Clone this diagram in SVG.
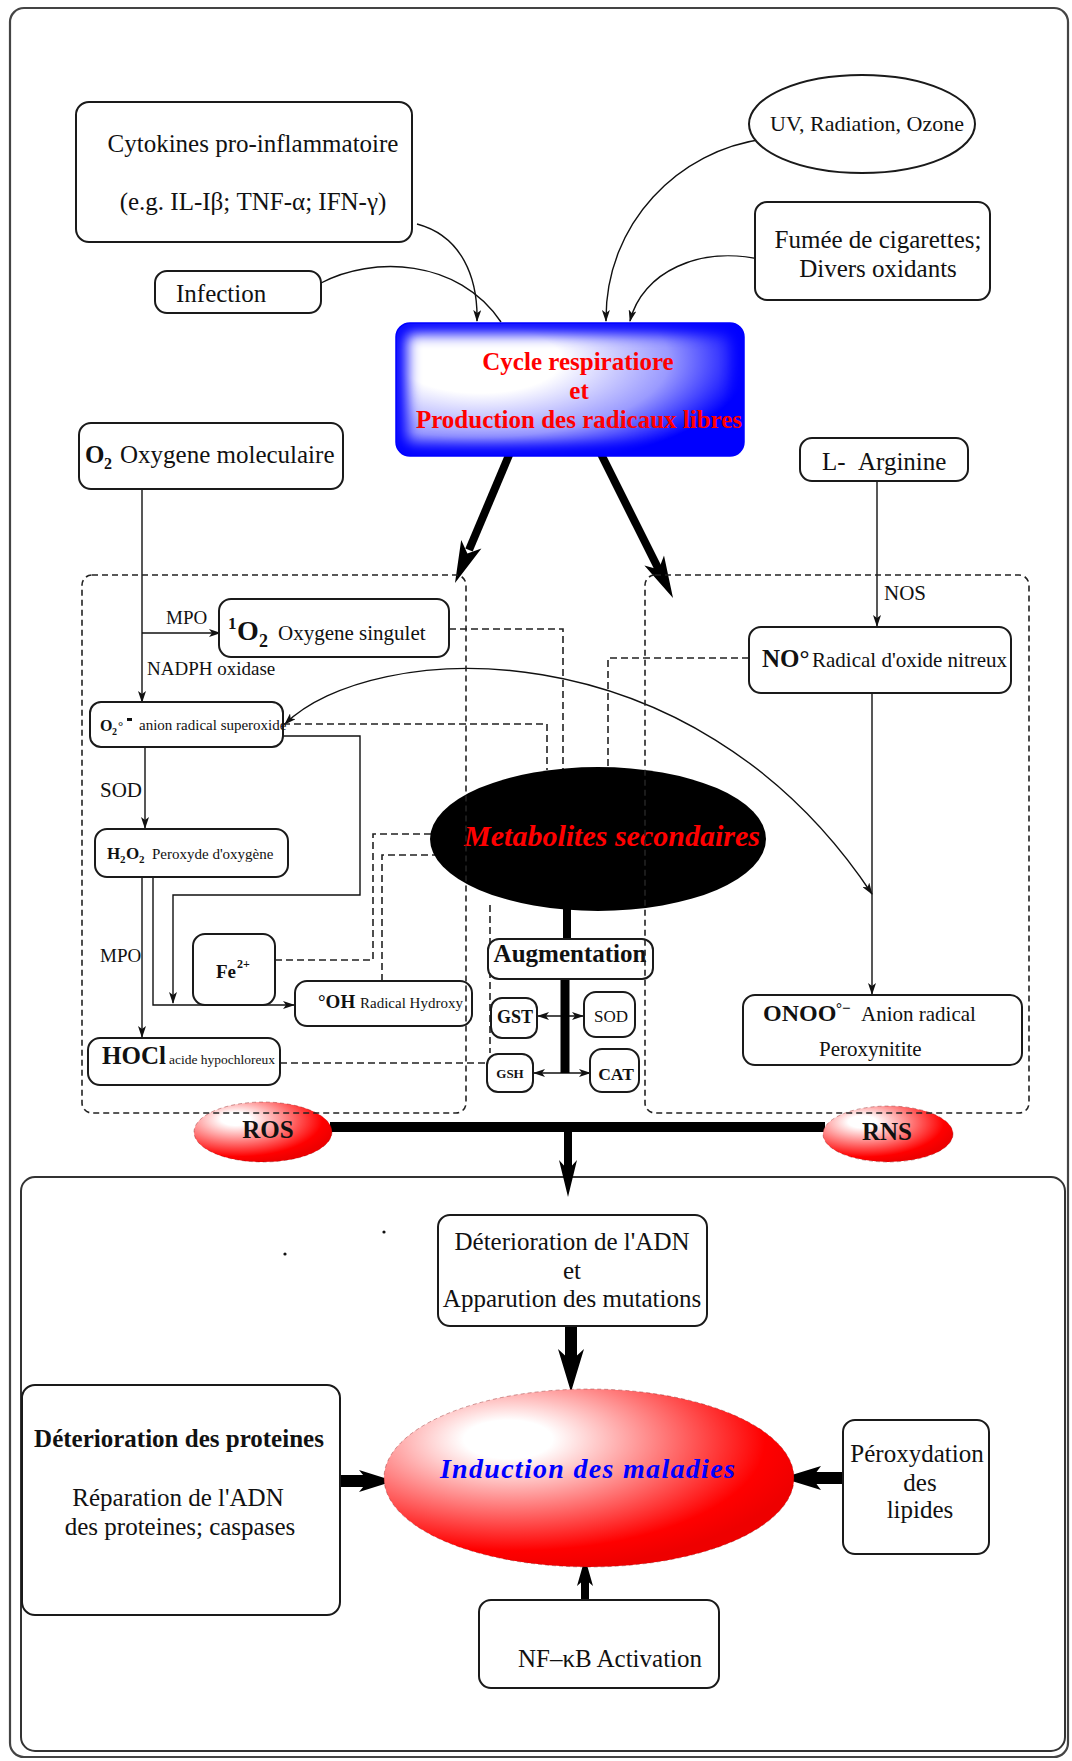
<svg xmlns="http://www.w3.org/2000/svg" width="1072" height="1761" viewBox="0 0 1072 1761">
<defs>
<style>
.box{fill:#fff;stroke:#1a1a1a;stroke-width:2}
.ln{fill:none;stroke:#111;stroke-width:1.4}
.dl{fill:none;stroke:#222;stroke-width:1.6;stroke-dasharray:7 4}
.rg{fill:none;stroke:#222;stroke-width:1.6;stroke-dasharray:6 4}
.thk{stroke:#000;fill:none}
.hd{fill:#000}
.red{fill:url(#redG);stroke:#7a0000;stroke-width:0.8;stroke-dasharray:4 3;stroke-opacity:0.45}
.t{font-family:"Liberation Serif","Times New Roman",serif;fill:#111}
.b{font-weight:bold}
.m{text-anchor:middle}
</style>
<marker id="ah" viewBox="0 0 12 8" refX="11" refY="4" markerWidth="12" markerHeight="8" markerUnits="userSpaceOnUse" orient="auto-start-reverse"><path d="M0,0 L12,4 L0,8 L3,4 z" fill="#111"/></marker>
<radialGradient id="blueG" gradientUnits="userSpaceOnUse" cx="0" cy="0" r="1" gradientTransform="matrix(270 0 0 110 480 360)">
<stop offset="0" stop-color="#fff"/><stop offset="0.3" stop-color="#fff"/><stop offset="0.7" stop-color="#9a9aff"/><stop offset="1" stop-color="#0000ff"/>
</radialGradient>
<radialGradient id="redG" cx="0.32" cy="0.3" r="0.72" fx="0.3" fy="0.28">
<stop offset="0" stop-color="#fff"/><stop offset="0.15" stop-color="#fff"/><stop offset="0.85" stop-color="#ff0000"/><stop offset="1" stop-color="#ee0000"/>
</radialGradient>
<clipPath id="cycClip"><rect x="396" y="323" width="348" height="133" rx="14"/></clipPath>
<filter id="soft" x="-10%" y="-20%" width="120%" height="140%"><feGaussianBlur stdDeviation="7"/></filter>
</defs>

<rect x="0" y="0" width="1072" height="1761" fill="#fff"/>
<g id="frames">
<rect x="10" y="8" width="1058" height="1749" rx="14" fill="none" stroke="#444" stroke-width="2.2"/>
<rect x="21" y="1177" width="1044" height="574" rx="14" fill="none" stroke="#333" stroke-width="2"/>
<circle cx="384" cy="1232" r="1.6" fill="#111"/>
<circle cx="285" cy="1254" r="1.6" fill="#111"/>
</g>

<g id="connectors">
<path class="ln" d="M417,224 C462,236 478,278 477,321" marker-end="url(#ah)"/>
<path class="ln" d="M321,283 C372,256 458,258 501,322"/>
<path class="ln" d="M764,139 C680,150 605,222 606,321" marker-end="url(#ah)"/>
<path class="ln" d="M763,260 C700,245 642,272 630,321" marker-end="url(#ah)"/>
<path class="ln" d="M142,489 V702" marker-end="url(#ah)"/>
<path class="ln" d="M142,633 H220" marker-end="url(#ah)"/>
<path class="ln" d="M145,747 V828" marker-end="url(#ah)"/>
<path class="ln" d="M142,877 V1037" marker-end="url(#ah)"/>
<path class="ln" d="M153,877 V1005 H294" marker-end="url(#ah)"/>
<path class="ln" d="M283,736 H360 V895 H173 V1003" marker-end="url(#ah)"/>
<path class="ln" d="M877,481 V626" marker-end="url(#ah)"/>
<path class="ln" d="M872,693 V994" marker-end="url(#ah)"/>
<path class="ln" d="M285,724 C370,640 690,620 872,894" marker-start="url(#ah)" marker-end="url(#ah)"/>
<path class="ln" stroke-width="2" d="M538,1016 H583" marker-start="url(#ah)" marker-end="url(#ah)"/>
<path class="ln" stroke-width="2" d="M534,1073 H590" marker-start="url(#ah)" marker-end="url(#ah)"/>

<path class="dl" d="M449,629 H563 V769"/>
<path class="dl" d="M283,724 H547 V770"/>
<path class="dl" d="M749,658 H608 V767"/>
<path class="dl" d="M275,960 H373 V834 H431"/>
<path class="dl" d="M382,981 V855 H435"/>
<path class="dl" d="M280,1063 H487"/>
<path class="dl" d="M490,905 V1053"/>

<line class="thk" x1="512" y1="448" x2="469" y2="550" stroke-width="8"/>
<polygon class="hd" points="455,583 481.4,548.6 467.4,553.5 461.2,540"/>
<line class="thk" x1="600" y1="452" x2="660" y2="572" stroke-width="8"/>
<polygon class="hd" points="673,598 644.4,565.4 658.7,569.4 664,555.6"/>
<line class="thk" x1="567" y1="905" x2="567" y2="939" stroke-width="8"/>
<line class="thk" x1="565" y1="979" x2="565" y2="1073" stroke-width="9"/>
<line class="thk" x1="330" y1="1127" x2="825" y2="1127" stroke-width="10"/>
<line class="thk" x1="568" y1="1127" x2="568" y2="1172" stroke-width="8"/>
<polygon class="hd" points="568,1197 559,1160 568,1170 577,1160"/>
<line class="thk" x1="571" y1="1326" x2="571" y2="1364" stroke-width="12"/>
<polygon class="hd" points="571,1392 558,1349 571,1361 584,1349"/>
<line class="thk" x1="340" y1="1481" x2="370" y2="1481" stroke-width="12"/>
<polygon class="hd" points="394,1481 359,1470 368,1481 359,1492"/>
<line class="thk" x1="843" y1="1478" x2="812" y2="1478" stroke-width="12"/>
<polygon class="hd" points="782,1478 821,1466 812,1478 821,1490"/>
<line class="thk" x1="585" y1="1600" x2="585" y2="1576" stroke-width="8"/>
<polygon class="hd" points="585,1558 577,1586 585,1579 593,1586"/>
</g>

<g id="cytokines">
<rect class="box" x="76" y="102" width="336" height="140" rx="13"/>
<text class="t m" x="253" y="152" font-size="25">Cytokines pro-inflammatoire</text>
<text class="t m" x="253" y="210" font-size="25">(e.g. IL-Iβ; TNF-α; IFN-γ)</text>
</g>
<g id="infection">
<rect class="box" x="155" y="271" width="166" height="42" rx="12"/>
<text class="t" x="176" y="302" font-size="25">Infection</text>
</g>
<g id="uv">
<ellipse class="box" cx="862" cy="124" rx="113" ry="49"/>
<text class="t m" x="867" y="131" font-size="22">UV, Radiation, Ozone</text>
</g>
<g id="fumee">
<rect class="box" x="755" y="202" width="235" height="98" rx="12"/>
<text class="t m" x="878" y="248" font-size="25">Fumée de cigarettes;</text>
<text class="t m" x="878" y="277" font-size="25">Divers oxidants</text>
</g>
<g id="cycle">
<rect x="396" y="323" width="348" height="133" rx="14" fill="url(#blueG)"/>
<g clip-path="url(#cycClip)"><rect x="396" y="323" width="348" height="133" rx="14" fill="none" stroke="#0000ff" stroke-width="22" filter="url(#soft)"/></g>
<rect x="396" y="323" width="348" height="133" rx="14" fill="none" stroke="#0000ff" stroke-width="1.5"/>
<text class="t b m" x="578" y="370" font-size="25" style="fill:#ff0000">Cycle respiratiore</text>
<text class="t b m" x="579" y="399" font-size="25" style="fill:#ff0000">et</text>
<text class="t b m" x="579" y="428" font-size="25" style="fill:#ff0000">Production des radicaux libres</text>
</g>
<g id="o2">
<rect class="box" x="79" y="423" width="264" height="66" rx="12"/>
<text class="t b" x="85" y="463" font-size="25">O</text>
<text class="t b" x="104" y="469" font-size="16">2</text>
<text class="t" x="120" y="463" font-size="25">Oxygene moleculaire</text>
</g>
<g id="arginine">
<rect class="box" x="800" y="438" width="168" height="43" rx="12"/>
<text class="t" x="822" y="470" font-size="25">L-</text>
<text class="t" x="858" y="470" font-size="25">Arginine</text>
</g>
<g id="labels">
<text class="t" x="166" y="624" font-size="19">MPO</text>
<text class="t" x="147" y="675" font-size="19">NADPH oxidase</text>
<text class="t" x="100" y="797" font-size="21">SOD</text>
<text class="t" x="100" y="962" font-size="19">MPO</text>
<text class="t" x="884" y="600" font-size="21">NOS</text>
</g>
<g id="singulet">
<rect class="box" x="219" y="599" width="230" height="58" rx="12"/>
<text class="t b" x="228" y="629" font-size="17">1</text>
<text class="t b" x="237" y="640" font-size="28">O</text>
<text class="t b" x="259" y="647" font-size="18">2</text>
<text class="t" x="278" y="640" font-size="21">Oxygene singulet</text>
</g>
<g id="superoxide">
<rect class="box" x="90" y="702" width="193" height="45" rx="11"/>
<text class="t b" x="100" y="731" font-size="16">O</text>
<text class="t b" x="112" y="735" font-size="10">2</text>
<text class="t b" x="118" y="730" font-size="13">°</text>
<rect x="127" y="718" width="5" height="3" fill="#111"/>
<text class="t" x="139" y="730" font-size="15">anion radical superoxide</text>
</g>
<g id="h2o2">
<rect class="box" x="95" y="829" width="193" height="48" rx="12"/>
<text class="t b" x="107" y="859" font-size="17">H</text>
<text class="t b" x="120" y="863" font-size="11">2</text>
<text class="t b" x="126" y="859" font-size="17">O</text>
<text class="t b" x="139" y="863" font-size="11">2</text>
<text class="t" x="152" y="859" font-size="15">Peroxyde d'oxygène</text>
</g>
<g id="fe">
<rect class="box" x="193" y="934" width="82" height="71" rx="12"/>
<text class="t b" x="216" y="978" font-size="19">Fe</text>
<text class="t b" x="237" y="968" font-size="12">2+</text>
</g>
<g id="oh">
<rect class="box" x="295" y="981" width="177" height="45" rx="12"/>
<text class="t b" x="318" y="1008" font-size="19">°OH</text>
<text class="t" x="360" y="1008" font-size="15">Radical Hydroxy</text>
</g>
<g id="hocl">
<rect class="box" x="88" y="1038" width="192" height="47" rx="12"/>
<text class="t b" x="102" y="1064" font-size="25">HOCl</text>
<text class="t" x="169" y="1064" font-size="13.5">acide hypochloreux</text>
</g>
<g id="no">
<rect class="box" x="749" y="627" width="262" height="66" rx="12"/>
<text class="t b" x="762" y="667" font-size="25">NO°</text>
<text class="t" x="812" y="667" font-size="21">Radical d'oxide nitreux</text>
</g>
<g id="onoo">
<rect class="box" x="743" y="995" width="279" height="70" rx="12"/>
<text class="t b" x="763" y="1021" font-size="24">ONOO</text>
<text class="t b" x="836" y="1013" font-size="15">°−</text>
<text class="t" x="861" y="1021" font-size="21">Anion radical</text>
<text class="t" x="819" y="1056" font-size="21">Peroxynitite</text>
</g>
<g id="metabolites">
<ellipse cx="598" cy="839" rx="168" ry="72" fill="#000"/>
<text class="t b m" x="612" y="846" font-size="30" font-style="italic" style="fill:#ff0000">Metabolites secondaires</text>
</g>
<g id="augmentation">
<rect class="box" x="488" y="939" width="165" height="40" rx="11"/>
<text class="t b m" x="570" y="962" font-size="25">Augmentation</text>
</g>
<g id="gst"><rect class="box" x="491" y="998" width="46" height="40" rx="11"/><text class="t b m" x="515" y="1023" font-size="18">GST</text></g>
<g id="sod"><rect class="box" x="584" y="992" width="51" height="45" rx="12"/><text class="t m" x="611" y="1022" font-size="17">SOD</text></g>
<g id="gsh"><rect class="box" x="487" y="1054" width="46" height="38" rx="11"/><text class="t b m" x="510" y="1078" font-size="13">GSH</text></g>
<g id="cat"><rect class="box" x="590" y="1049" width="49" height="43" rx="12"/><text class="t b m" x="616" y="1080" font-size="17.5">CAT</text></g>

<g id="ros">
<ellipse class="red" cx="263" cy="1132" rx="69" ry="30"/>
<text class="t b m" x="268" y="1138" font-size="25">ROS</text>
</g>
<g id="rns">
<ellipse class="red" cx="888" cy="1134" rx="65" ry="28"/>
<text class="t b m" x="887" y="1140" font-size="25">RNS</text>
</g>

<g id="adn">
<rect class="box" x="438" y="1215" width="269" height="111" rx="12"/>
<text class="t m" x="572" y="1250" font-size="25">Déterioration de l'ADN</text>
<text class="t m" x="572" y="1279" font-size="25">et</text>
<text class="t m" x="572" y="1307" font-size="25">Apparution des mutations</text>
</g>
<g id="induction">
<ellipse class="red" cx="589" cy="1478" rx="205" ry="89"/>
<text class="t b m" x="588" y="1478" font-size="28" font-style="italic" letter-spacing="1.3" style="fill:#0000ff">Induction des maladies</text>
</g>
<g id="proteines">
<rect class="box" x="22" y="1385" width="318" height="230" rx="13"/>
<text class="t b m" x="179" y="1447" font-size="25">Déterioration des proteines</text>
<text class="t m" x="178" y="1506" font-size="25">Réparation de l'ADN</text>
<text class="t m" x="180" y="1535" font-size="25">des proteines; caspases</text>
</g>
<g id="lipides">
<rect class="box" x="843" y="1420" width="146" height="134" rx="12"/>
<text class="t m" x="917" y="1462" font-size="25">Péroxydation</text>
<text class="t m" x="920" y="1491" font-size="25">des</text>
<text class="t m" x="920" y="1518" font-size="25">lipides</text>
</g>
<g id="nfkb">
<rect class="box" x="479" y="1600" width="240" height="88" rx="12"/>
<text class="t m" x="610" y="1667" font-size="25">NF–κB Activation</text>
</g>

<g id="regions">
<rect class="rg" x="82" y="575" width="384" height="538" rx="10"/>
<rect class="rg" x="645" y="575" width="384" height="538" rx="10"/>
</g>
</svg>
